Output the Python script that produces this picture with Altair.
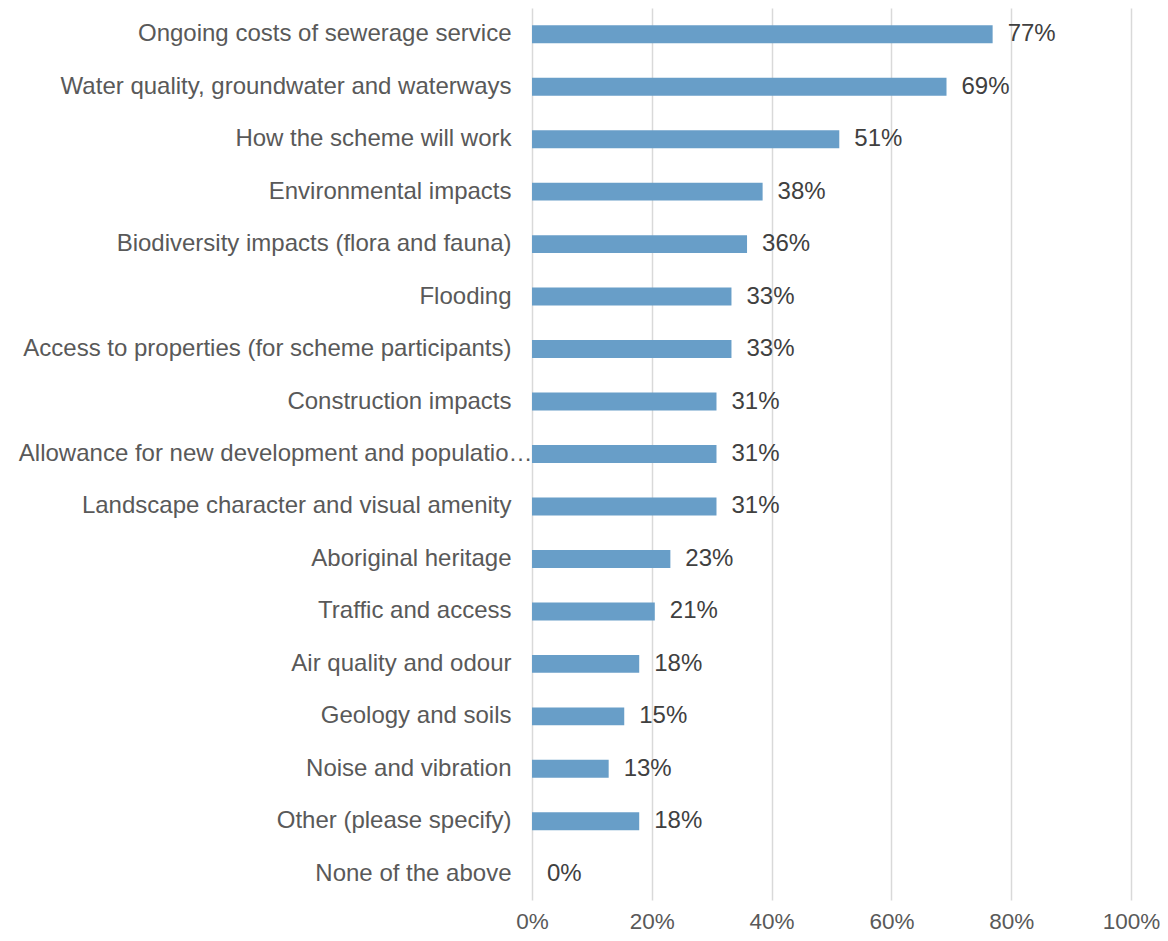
import altair as alt
import pandas as pd

categories = [
    "Ongoing costs of sewerage service",
    "Water quality, groundwater and waterways",
    "How the scheme will work",
    "Environmental impacts",
    "Biodiversity impacts (flora and fauna)",
    "Flooding",
    "Access to properties (for scheme participants)",
    "Construction impacts",
    "Allowance for new development and population growth",
    "Landscape character and visual amenity",
    "Aboriginal heritage",
    "Traffic and access",
    "Air quality and odour",
    "Geology and soils",
    "Noise and vibration",
    "Other (please specify)",
    "None of the above",
]
values = [76.9, 69.2, 51.3, 38.5, 35.9, 33.3, 33.3, 30.8, 30.8, 30.8,
          23.1, 20.5, 17.9, 15.4, 12.8, 17.9, 0.0]
labels = ["77%", "69%", "51%", "38%", "36%", "33%", "33%", "31%", "31%", "31%",
          "23%", "21%", "18%", "15%", "13%", "18%", "0%"]
tick_values = [0, 20, 40, 60, 80, 100]

df = pd.DataFrame({"category": categories, "value": values, "label": labels})

FONT = "Liberation Sans"

x = alt.X(
    "value:Q",
    scale=alt.Scale(domain=[0, 100], nice=False, zero=True),
    axis=alt.Axis(
        values=tick_values,
        labelExpr="datum.value + '%'",
        title=None,
        domain=False,
        ticks=False,
        grid=True,
        gridColor="#d9d9d9",
        gridWidth=1.5,
        labelFont=FONT,
        labelFontSize=22.5,
        labelColor="#595959",
        labelPadding=10,
        labelFlush=False,
    ),
)
y = alt.Y(
    "category:N",
    sort=categories,
    scale=alt.Scale(paddingInner=0.658, paddingOuter=0.329),
    axis=alt.Axis(
        title=None,
        domain=False,
        ticks=False,
        labelFont=FONT,
        labelFontSize=24,
        labelColor="#595959",
        labelPadding={
            "condition": {"test": "indexof(datum.value, 'Allowance') === 0", "value": 0},
            "value": 21,
        },
        labelLimit=524,
    ),
)

bars = alt.Chart(df).mark_bar(color="#689ec8").encode(x=x, y=y)
text = alt.Chart(df).mark_text(
    align="left", baseline="middle", dx=15, font=FONT, fontSize=24, color="#404040"
).encode(x="value:Q", y=alt.Y("category:N", sort=categories), text="label:N")

chart = (
    alt.layer(bars, text)
    .properties(
        width=599,
        height=892,
        autosize=alt.AutoSizeParams(type="none"),
        padding={"left": 524, "top": 0, "right": 29, "bottom": 33},
    )
    .configure_view(stroke=None)
)

chart.save("out.html", embed_options={"renderer": "svg", "actions": False})
